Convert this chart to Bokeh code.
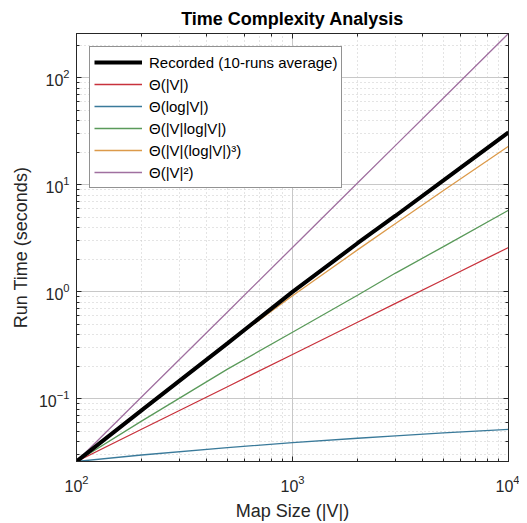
from bokeh.plotting import figure
from bokeh.models import LogAxis, LogTicker, Legend, LegendItem
from bokeh.embed import file_html
from bokeh.resources import INLINE

sizes = [100, 200, 500, 1000, 2000, 3000, 5000, 10000]
recorded = [0.026, 0.078, 0.33, 1.0, 2.85, 5.15, 11.0, 31.0]
theta_v = [0.026, 0.052, 0.13, 0.26, 0.52, 0.78, 1.3, 2.6]
theta_logv = [0.026, 0.0299, 0.0351, 0.039, 0.0429, 0.0452, 0.0481, 0.052]
theta_vlogv = [0.026, 0.062, 0.19, 0.42, 0.93, 1.5, 2.65, 5.8]
theta_vlog3 = [0.026, 0.08, 0.33, 0.92, 2.47, 4.35, 8.85, 23.0]
theta_v2 = [0.026, 0.104, 0.65, 2.6, 10.4, 23.4, 65.0, 260.0]

labels = ["Recorded (10-runs average)", "Θ(|V|)", "Θ(log|V|)", "Θ(|V|log|V|)",
          "Θ(|V|(log|V|)³)", "Θ(|V|²)"]
colors = ["#000000", "#c8323c", "#3a7a9a", "#5a9a5a", "#dc9a4a", "#a070a0"]
widths = [4, 1.3, 1.3, 1.3, 1.3, 1.3]
series = [recorded, theta_v, theta_logv, theta_vlogv, theta_vlog3, theta_v2]

FONT = "Liberation Sans"
TXT = "#262626"

p = figure(width=519, height=523, x_axis_type="log", y_axis_type="log",
           x_range=(100, 10000), y_range=(0.026, 260),
           output_backend="svg", toolbar_location=None,
           min_border_left=76, min_border_right=11, min_border_top=33,
           min_border_bottom=60)
p.title.text = "Time Complexity Analysis"
p.title.text_font = FONT
p.title.text_font_size = "18px"
p.title.text_font_style = "bold"
p.title.align = "center"
p.title.text_color = "#000000"

order = [1, 2, 3, 4, 5, 0]
renderers = {}
for i in order:
    renderers[i] = p.line(sizes, series[i], line_color=colors[i], line_width=widths[i])

items = [LegendItem(label=labels[i], renderers=[renderers[i]]) for i in range(6)]
legend = Legend(items=items, location="top_left")
legend.label_text_font = FONT
legend.label_text_font_size = "15px"
legend.label_text_color = "#000000"
legend.glyph_width = 48
legend.glyph_height = 22
legend.label_height = 22
legend.spacing = 0
legend.padding = 4
legend.margin = 13
legend.label_standoff = 7
legend.border_line_color = "#262626"
legend.border_line_width = 1.2
legend.background_fill_alpha = 1.0
p.add_layout(legend)

p.xaxis.axis_label = "Map Size (|V|)"
p.yaxis.axis_label = "Run Time (seconds)"

for ax in [p.xaxis[0], p.yaxis[0]]:
    ax.axis_label_text_font = FONT
    ax.axis_label_text_font_size = "18px"
    ax.axis_label_text_font_style = "normal"
    ax.axis_label_text_color = TXT
    ax.major_label_text_font = FONT
    ax.major_label_text_font_size = "16px"
    ax.major_label_text_color = TXT
    ax.axis_line_color = TXT
    ax.major_tick_line_color = TXT
    ax.minor_tick_line_color = TXT
    ax.major_tick_in = 5
    ax.major_tick_out = 0
    ax.minor_tick_in = 3
    ax.minor_tick_out = 0
p.xaxis[0].major_label_standoff = 13
p.xaxis[0].axis_label_standoff = 6
p.yaxis[0].major_label_standoff = 7
p.yaxis[0].axis_label_standoff = 5

for side in ["right", "above"]:
    ax2 = LogAxis(ticker=LogTicker())
    ax2.major_label_text_font_size = "1px"
    ax2.major_label_text_alpha = 0
    ax2.axis_line_color = TXT
    ax2.major_tick_line_color = TXT
    ax2.minor_tick_line_color = TXT
    ax2.major_tick_in = 5
    ax2.major_tick_out = 0
    ax2.minor_tick_in = 3
    ax2.minor_tick_out = 0
    ax2.major_label_standoff = 0
    p.add_layout(ax2, side)

for g in [p.xgrid[0], p.ygrid[0]]:
    g.grid_line_color = "#c8c8c8"
    g.grid_line_width = 1
    g.minor_grid_line_color = "#c8c8c8"
    g.minor_grid_line_dash = "1 3"
    g.minor_grid_line_width = 1

p.outline_line_color = TXT
p.background_fill_color = "#ffffff"
p.border_fill_color = "#ffffff"

open("out.html", "w").write(file_html(p, INLINE))
